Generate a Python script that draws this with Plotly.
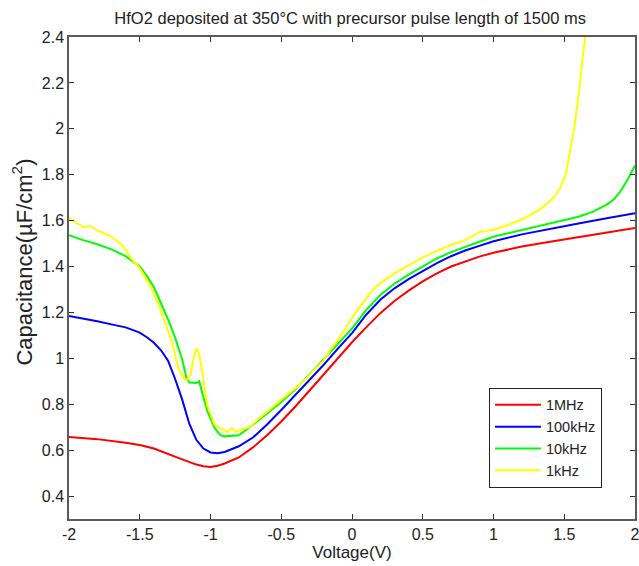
import plotly.graph_objects as go

# C-V curves
v_1mhz = [-2, -1.8, -1.6, -1.5, -1.4, -1.3, -1.2, -1.1, -1.05, -1.0, -0.95, -0.9, -0.8, -0.7,
          -0.6, -0.5, -0.4, -0.3, -0.2, -0.1, 0, 0.1, 0.2, 0.3, 0.4, 0.5, 0.6, 0.7, 0.8, 0.9,
          1.0, 1.2, 1.4, 1.6, 1.8, 2.0]
c_1mhz = [0.657, 0.648, 0.632, 0.622, 0.607, 0.585, 0.56, 0.537, 0.53, 0.527, 0.532, 0.542,
          0.568, 0.612, 0.665, 0.725, 0.79, 0.86, 0.93, 1.0, 1.07, 1.135, 1.197, 1.25, 1.295,
          1.335, 1.37, 1.4, 1.423, 1.443, 1.46, 1.487, 1.508, 1.528, 1.548, 1.568]

v_100khz = [-2, -1.9, -1.8, -1.7, -1.6, -1.5, -1.45, -1.4, -1.35, -1.3, -1.25, -1.2, -1.15,
            -1.1, -1.05, -1.0, -0.95, -0.9, -0.85, -0.8, -0.7, -0.6, -0.5, -0.4, -0.3, -0.2,
            -0.1, 0, 0.1, 0.2, 0.3, 0.4, 0.5, 0.6, 0.7, 0.8, 0.9, 1.0, 1.2, 1.4, 1.6, 1.8, 2.0]
c_100khz = [1.185, 1.175, 1.162, 1.148, 1.135, 1.112, 1.092, 1.068, 1.035, 0.99, 0.91, 0.82,
            0.715, 0.645, 0.607, 0.59, 0.587, 0.592, 0.603, 0.617, 0.655, 0.712, 0.775, 0.84,
            0.905, 0.972, 1.042, 1.11, 1.19, 1.255, 1.305, 1.345, 1.38, 1.415, 1.445, 1.47,
            1.49, 1.51, 1.54, 1.565, 1.587, 1.61, 1.632]

v_10khz = [-2, -1.9, -1.8, -1.7, -1.6, -1.5, -1.45, -1.4, -1.35, -1.3, -1.25, -1.2, -1.17,
           -1.15, -1.1, -1.08, -1.05, -1.02, -0.97, -0.93, -0.9, -0.8, -0.7, -0.6, -0.5, -0.4,
           -0.3, -0.2, -0.1, 0, 0.1, 0.2, 0.3, 0.4, 0.5, 0.6, 0.7, 0.8, 0.9, 1.0, 1.2, 1.4,
           1.5, 1.6, 1.7, 1.8, 1.85, 1.9, 1.95, 2.0]
c_10khz = [1.537, 1.515, 1.497, 1.475, 1.445, 1.4, 1.36, 1.31, 1.24, 1.17, 1.09, 0.995, 0.914,
           0.895, 0.893, 0.9, 0.83, 0.766, 0.696, 0.665, 0.66, 0.665, 0.71, 0.76, 0.81, 0.865,
           0.93, 0.995, 1.062, 1.13, 1.21, 1.276, 1.325, 1.365, 1.4, 1.435, 1.463, 1.487, 1.508,
           1.53, 1.56, 1.588, 1.603, 1.617, 1.638, 1.67, 1.692, 1.73, 1.78, 1.84]

v_1khz = [-2, -1.95, -1.9, -1.85, -1.8, -1.75, -1.71, -1.64, -1.6, -1.57, -1.5, -1.43, -1.37,
          -1.32, -1.27, -1.23, -1.19, -1.17, -1.14, -1.12, -1.1, -1.08, -1.06, -1.04, -1.02,
          -0.97, -0.92, -0.88, -0.85, -0.82, -0.79, -0.72, -0.67, -0.6, -0.56, -0.5, -0.44,
          -0.38, -0.32, -0.26, -0.2, -0.15, -0.1, -0.05, 0, 0.05, 0.1, 0.15, 0.2, 0.3, 0.4,
          0.5, 0.6, 0.7, 0.8, 0.9, 1.0, 1.1, 1.2, 1.26, 1.32, 1.38, 1.43, 1.47, 1.51, 1.54,
          1.57, 1.59, 1.61, 1.625, 1.645, 1.655, 1.67]
c_1khz = [1.611, 1.59, 1.572, 1.576, 1.556, 1.545, 1.533, 1.502, 1.475, 1.441, 1.393, 1.32,
          1.24, 1.154, 1.067, 0.962, 0.914, 0.903, 0.93, 1.0, 1.045, 1.02, 0.95, 0.86, 0.788,
          0.709, 0.69, 0.678, 0.695, 0.68, 0.688, 0.7, 0.731, 0.765, 0.788, 0.82, 0.849, 0.88,
          0.914, 0.955, 0.99, 1.04, 1.08, 1.13, 1.176, 1.22, 1.26, 1.3, 1.328, 1.37, 1.405,
          1.44, 1.468, 1.494, 1.515, 1.55, 1.56, 1.58, 1.605, 1.624, 1.645, 1.675, 1.705, 1.74,
          1.80, 1.9, 2.0, 2.095, 2.19, 2.287, 2.37, 2.41, 2.5]

x_ticks = [-2, -1.5, -1, -0.5, 0, 0.5, 1, 1.5, 2]
x_labels = ['-2', '-1.5', '-1', '-0.5', '0', '0.5', '1', '1.5', '2']
y_ticks = [0.4, 0.6, 0.8, 1.0, 1.2, 1.4, 1.6, 1.8, 2.0, 2.2, 2.4]
y_labels = ['0.4', '0.6', '0.8', '1', '1.2', '1.4', '1.6', '1.8', '2', '2.2', '2.4']

series = [
    ('1MHz', v_1mhz, c_1mhz, '#ff0000'),
    ('100kHz', v_100khz, c_100khz, '#0000ff'),
    ('10kHz', v_10khz, c_10khz, '#00ff00'),
    ('1kHz', v_1khz, c_1khz, '#ffff00'),
]

font = 'Liberation Sans, Arial, sans-serif'

fig = go.Figure()
for name, v, c, col in series:
    fig.add_trace(go.Scatter(x=v, y=c, mode='lines', name=name,
                             line=dict(color=col, width=2)))

axis_style = dict(showline=True, linecolor='#5a5a5a', linewidth=1.5, mirror='ticks',
                  ticks='inside', ticklen=5, tickcolor='#333333', showgrid=False,
                  zeroline=False, automargin=False, ticklabeloverflow='allow',
                  tickfont=dict(size=16, color='#222222', family=font))

fig.update_xaxes(range=[-2, 2], tickvals=x_ticks, ticktext=x_labels,
                 title=dict(text='Voltage(V)', font=dict(size=17, color='#222222'), standoff=2),
                 **axis_style)
fig.update_yaxes(range=[0.3, 2.4], tickvals=y_ticks, ticktext=y_labels, **axis_style)

# y title as an annotation so it can sit where the reference has it
fig.add_annotation(text='Capacitance(µF/cm<sup>2</sup>)', textangle=-90,
                   xref='paper', yref='paper', x=-0.083, y=0.532,
                   xanchor='center', yanchor='middle', showarrow=False,
                   font=dict(size=22, color='#222222', family=font))

fig.update_layout(
    width=639, height=566,
    margin=dict(l=69, r=4, t=37, b=47),
    paper_bgcolor='white', plot_bgcolor='white',
    font=dict(family=font, color='#222222'),
    title=dict(text='HfO2 deposited at 350°C with precursor pulse length of 1500 ms',
               x=0.548, xanchor='center', y=0.968, yanchor='middle',
               font=dict(size=16.5, color='#222222')),
    legend=dict(x=0.742, y=0.272, xanchor='left', yanchor='top',
                bgcolor='white', bordercolor='#222222', borderwidth=1,
                font=dict(size=14.5, color='#222222'), itemwidth=46),
    showlegend=True,
)

# drop the default page margin so the figure sits at the window's corner
fig.write_html("out.html", config={'displayModeBar': False},
               post_script="document.body.style.margin='0';")
